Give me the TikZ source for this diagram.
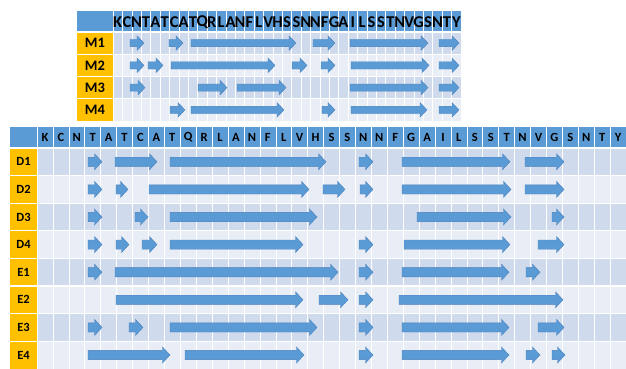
\documentclass[tikz,border=0pt]{standalone}
\usepackage{fontspec}
\setmainfont{Carlito}
\definecolor{hdr}{HTML}{5B9BD5}
\definecolor{lab}{HTML}{FFC000}
\definecolor{rowA}{HTML}{CFDAEC}
\definecolor{rowB}{HTML}{E9EEF6}
\definecolor{arrfill}{HTML}{5B9BD5}
\definecolor{arrline}{HTML}{4A80BC}
\tikzset{
  arrowstyle/.style={fill=arrfill,draw=arrline,line width=0.4pt,line join=miter},
  gridline/.style={white,line width=0.6pt},
  rowline/.style={white,line width=1.2pt},
  toplet/.style={font=\bfseries\fontsize{16.5}{16.5}\selectfont,inner sep=0pt},
  botlet/.style={font=\bfseries\fontsize{12.5}{12.5}\selectfont,inner sep=0pt},
  toplab/.style={font=\bfseries\fontsize{14.5}{14.5}\selectfont,inner sep=0pt},
  botlab/.style={font=\bfseries\fontsize{12.5}{12.5}\selectfont,inner sep=0pt},
}
% x1, x2, yc, body half height, head half height, head length
\newcommand\blkarrow[6]{%
  \filldraw[arrowstyle] (#1,#3-#4) -- (#2-#6,#3-#4) -- (#2-#6,#3-#5) -- (#2,#3)
    -- (#2-#6,#3+#5) -- (#2-#6,#3+#4) -- (#1,#3+#4) -- cycle;}
\begin{document}
\begin{tikzpicture}[x=1pt,y=-1pt]
\useasboundingbox (0,0) rectangle (626,369);
\fill[white] (0,0) rectangle (626,369);
% ================= TOP TABLE =================
\def\TX{113}\def\TW{9.405}\def\TR{22.25}
\fill[hdr] (77,11) rectangle (461,32);
\foreach \i in {0,...,3}{
  \pgfmathsetmacro\ya{32+\i*\TR}
  \pgfmathsetmacro\yb{32+(\i+1)*\TR}
  \pgfmathtruncatemacro\odd{mod(\i,2)}
  \ifnum\odd=0 \fill[rowA] (\TX,\ya) rectangle (461,\yb);
  \else \fill[rowB] (\TX,\ya) rectangle (461,\yb); \fi
  \fill[lab] (77,\ya) rectangle (\TX,\yb);
}
\foreach \k in {0,...,37}{
  \draw[gridline] ({\TX+\k*\TW},11) -- ({\TX+\k*\TW},121);
}
\foreach \i in {1,...,3}{
  \draw[rowline] (77,{32+\i*\TR}) -- (461,{32+\i*\TR});
}
\draw[rowline] (77,32) -- (461,32);
\foreach \c [count=\i] in {K,C,N,T,A,T,C,A,T,Q,R,L,A,N,F,L,V,H,S,S,N,N,F,G,A,I,L,S,S,T,N,V,G,S,N,T,Y}{
  \node[toplet] (t\i) at ({\TX+(\i-0.5)*\TW},22) {\c};
}
\foreach \n [count=\i] in {M1,M2,M3,M4}{
  \node[toplab] (\n) at (95,{32+(\i-0.5)*\TR}) {\n};
}
% top arrows
\foreach \a/\b in {130/144,169/183,191/296,313/335,350/428,439/459}{\blkarrow{\a}{\b}{43.1}{3.6}{7.3}{7}}
\foreach \a/\b in {130/144,148/163,171/275,292/307,321/335,351/429,439/459}{\blkarrow{\a}{\b}{65.4}{3.6}{7.3}{7}}
\foreach \a/\b in {130/145,198/227,237/286,350/428,439/459}{\blkarrow{\a}{\b}{87.6}{3.6}{7.3}{7}}
\foreach \a/\b in {170/185,191/284,322/335,351/427,439/459}{\blkarrow{\a}{\b}{109.9}{3.6}{7.3}{7}}
% ================= BOTTOM TABLE =================
\def\BX{37}\def\BW{15.92}\def\BR{27.6}
\fill[hdr] (10,127) rectangle (626,148);
\foreach \i in {0,...,7}{
  \pgfmathsetmacro\ya{148+\i*\BR}
  \pgfmathsetmacro\yb{148+(\i+1)*\BR}
  \pgfmathtruncatemacro\odd{mod(\i,2)}
  \ifnum\odd=0 \fill[rowA] (\BX,\ya) rectangle (626,\yb);
  \else \fill[rowB] (\BX,\ya) rectangle (626,\yb); \fi
  \fill[lab] (10,\ya) rectangle (\BX,\yb);
}
\foreach \k in {0,...,36}{
  \draw[gridline] ({\BX+\k*\BW},127) -- ({\BX+\k*\BW},369);
}
\foreach \i in {0,...,7}{
  \draw[rowline] (10,{148+\i*\BR}) -- (626,{148+\i*\BR});
}
\foreach \c [count=\i] in {K,C,N,T,A,T,C,A,T,Q,R,L,A,N,F,L,V,H,S,S,N,N,F,G,A,I,L,S,S,T,N,V,G,S,N,T,Y}{
  \node[botlet] (b\i) at ({\BX+(\i-0.5)*\BW},137.5) {\c};
}
\foreach \n [count=\i] in {D1,D2,D3,D4,E1,E2,E3,E4}{
  \node[botlab] (\n) at (23.5,{148+(\i-0.5)*\BR}) {\n};
}
% bottom arrows
\def\bb{4.6}\def\bH{8}\def\bh{7.5}
\foreach \a/\b in {88/102,115/157,170/326,359/373,402/510,525/564}{\blkarrow{\a}{\b}{161.8}{\bb}{\bH}{\bh}}
\foreach \a/\b in {88/102,116/128,149/309,323/345,360/373,402/511,525/564}{\blkarrow{\a}{\b}{189.4}{\bb}{\bH}{\bh}}
\foreach \a/\b in {88/102,135/148,170/317,417/511,552/564}{\blkarrow{\a}{\b}{217}{\bb}{\bH}{\bh}}
\foreach \a/\b in {88/102,116/129,142/157,170/303,359/373,404/510,538/564}{\blkarrow{\a}{\b}{244.6}{\bb}{\bH}{\bh}}
\foreach \a/\b in {88/102,115/338,359/373,402/509,526/540}{\blkarrow{\a}{\b}{272.2}{\bb}{\bH}{\bh}}
\foreach \a/\b in {116/303,319/348,359/373,399/563}{\blkarrow{\a}{\b}{299.8}{\bb}{\bH}{\bh}}
\foreach \a/\b in {88/102,129/143,170/317,359/373,402/509,538/564}{\blkarrow{\a}{\b}{327.4}{\bb}{\bH}{\bh}}
\foreach \a/\b in {88/170,185/304,359/373,402/509,526/540,552/565}{\blkarrow{\a}{\b}{355}{\bb}{\bH}{\bh}}
\end{tikzpicture}
\end{document}
